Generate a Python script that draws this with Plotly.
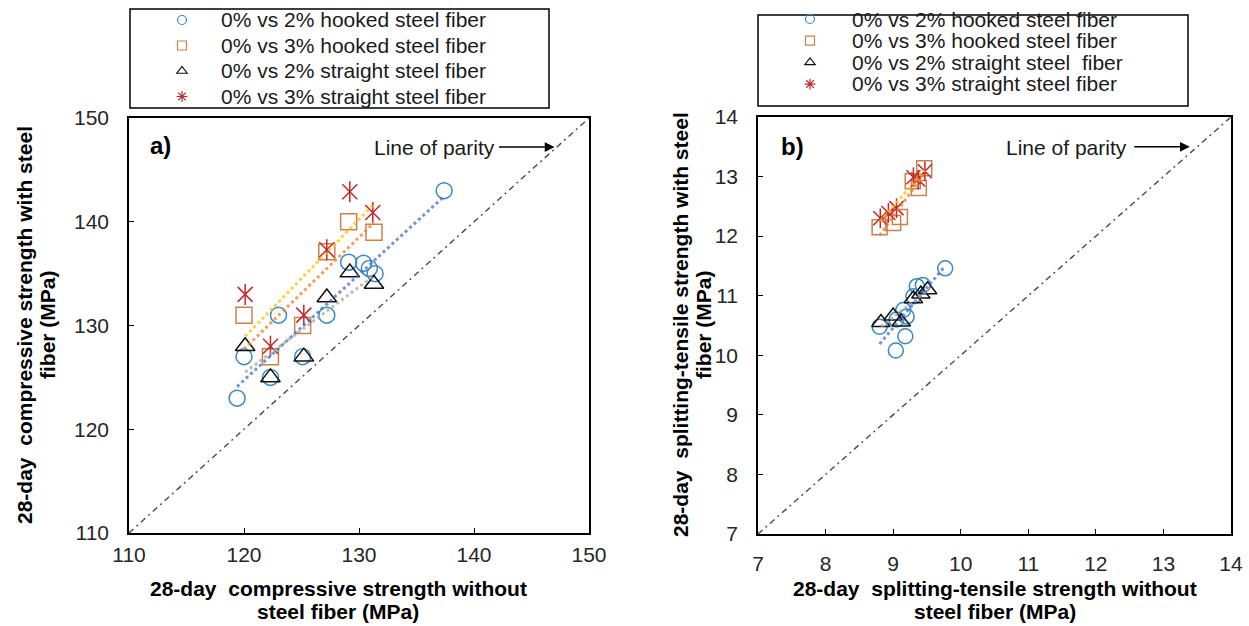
import numpy as np
import plotly.graph_objects as go

W, H = 1249, 626

# ---------------- data ----------------
series_names = ["0% vs 2% hooked steel fiber", "0% vs 3% hooked steel fiber",
                "0% vs 2% straight steel fiber", "0% vs 3% straight steel fiber"]
series_names_b = ["0% vs 2% hooked steel fiber", "0% vs 3% hooked steel fiber",
                  "0% vs 2% straight steel\u00a0 fiber", "0% vs 3% straight steel fiber"]

# Panel a: 28-day compressive strength (MPa)
a_x_hooked2 = [137.4, 129.1, 130.4, 130.9, 131.4, 123.0, 127.2, 120.0, 125.1, 122.3, 119.4]
a_y_hooked2 = [143.0, 136.1, 136.0, 135.5, 135.0, 131.0, 131.0, 127.0, 127.0, 125.0, 123.0]
a_x_hooked3 = [120.0, 122.3, 125.1, 127.2, 129.1, 131.3]
a_y_hooked3 = [131.0, 127.0, 130.0, 137.1, 140.0, 139.0]
a_x_straight2 = [120.1, 122.3, 125.2, 127.2, 129.2, 131.3]
a_y_straight2 = [128.0, 125.0, 127.0, 132.7, 135.1, 134.0]
a_x_straight3 = [120.1, 122.3, 125.2, 127.2, 129.2, 131.2]
a_y_straight3 = [133.0, 128.0, 131.0, 137.3, 142.9, 140.9]

# Panel b: 28-day splitting-tensile strength (MPa)
b_x_hooked2 = [9.77, 9.35, 9.44, 9.30, 9.20, 9.15, 9.05, 9.18, 9.04, 8.80]
b_y_hooked2 = [11.46, 11.16, 11.18, 10.99, 10.65, 10.76, 10.60, 10.32, 10.08, 10.48]
b_x_hooked3 = [8.80, 9.00, 9.10, 9.29, 9.38, 9.46]
b_y_hooked3 = [12.15, 12.22, 12.32, 12.92, 12.81, 13.14]
b_x_straight2 = [8.82, 9.00, 9.12, 9.30, 9.41, 9.51]
b_y_straight2 = [10.55, 10.66, 10.56, 10.95, 11.03, 11.10]
b_x_straight3 = [8.81, 8.93, 9.05, 9.30, 9.37, 9.47]
b_y_straight3 = [12.30, 12.39, 12.47, 12.99, 12.95, 13.09]

a_range = [110, 150]
b_range = [7, 14]
a_ticks = [110, 120, 130, 140, 150]
b_ticks = [7, 8, 9, 10, 11, 12, 13, 14]

# ---------------- styles ----------------
mark_colors = ["#3A88C4", "#C8824A", "#111111", "#C0282D"]
trend_colors = ["rgba(68,114,196,0.75)", "rgba(237,125,49,0.75)",
                "rgba(165,165,165,0.75)", "rgba(255,192,0,0.75)"]
symbols = ["circle-open", "square-open", "triangle-up-open", None]
FONT = "Liberation Sans, Arial, sans-serif"


def px_x(p):
    return p / W


def px_y(p):
    return 1 - p / H


fig = go.Figure()

panels = [
    dict(xa="x", ya="y", legend="legend",
         data=[(a_x_hooked2, a_y_hooked2), (a_x_hooked3, a_y_hooked3),
               (a_x_straight2, a_y_straight2), (a_x_straight3, a_y_straight3)],
         sizes=[16, 16, 17, 15], rng=a_range, names=series_names),
    dict(xa="x2", ya="y2", legend="legend2",
         data=[(b_x_hooked2, b_y_hooked2), (b_x_hooked3, b_y_hooked3),
               (b_x_straight2, b_y_straight2), (b_x_straight3, b_y_straight3)],
         sizes=[15, 15, 16, 14], rng=b_range, names=series_names_b),
]

for p in panels:
    # line of parity
    fig.add_trace(go.Scatter(x=p["rng"], y=p["rng"], mode="lines", xaxis=p["xa"], yaxis=p["ya"],
                             line=dict(color="#4a4a4a", width=1.4, dash="6px,4px,2px,4px"),
                             showlegend=False, hoverinfo="skip"))
    # markers
    for i, (xs, ys) in enumerate(p["data"]):
        if symbols[i] is not None:
            fig.add_trace(go.Scatter(x=xs, y=ys, mode="markers", xaxis=p["xa"], yaxis=p["ya"],
                                     marker=dict(symbol=symbols[i], size=p["sizes"][i], color=mark_colors[i],
                                                 line=dict(width=1.5, color=mark_colors[i])),
                                     showlegend=False))
        else:
            for sym in ["x-thin-open", "line-ns-open"]:
                fig.add_trace(go.Scatter(x=xs, y=ys, mode="markers", xaxis=p["xa"], yaxis=p["ya"],
                                         marker=dict(symbol=sym, size=p["sizes"][i], color=mark_colors[i],
                                                     line=dict(width=1.5, color=mark_colors[i])),
                                         showlegend=False))
    # linear trendlines (fitted from the data above)
    for i, (xs, ys) in enumerate(p["data"]):
        xa = np.array(xs)
        k, b = np.polyfit(xa, np.array(ys), 1)
        xt = np.array([xa.min(), xa.max()])
        fig.add_trace(go.Scatter(x=xt, y=k * xt + b, mode="lines", xaxis=p["xa"], yaxis=p["ya"],
                                 line=dict(color=trend_colors[i], width=3, dash="dot"),
                                 showlegend=False, hoverinfo="skip"))
    # legend samples (no data)
    for i in range(4):
        fig.add_trace(go.Scatter(x=[None], y=[None], mode="markers", xaxis=p["xa"], yaxis=p["ya"],
                                 name=" ", legend=p["legend"], legendgroup=p["legend"] + str(i),
                                 marker=dict(symbol=symbols[i] or "asterisk-open", size=9,
                                             color=mark_colors[i],
                                             line=dict(width=1.2, color=mark_colors[i])),
                                 showlegend=True))

axis_common = dict(ticks="inside", ticklen=5, tickwidth=1.2, tickcolor="black",
                   showline=True, linecolor="black", linewidth=1.5, mirror=True,
                   showgrid=False, zeroline=False,
                   tickfont=dict(size=21, color="#262626", family=FONT))

fig.update_layout(
    width=W, height=H, margin=dict(l=0, r=0, t=0, b=0, autoexpand=False),
    paper_bgcolor="white", plot_bgcolor="white",
    font=dict(family=FONT, color="black"),
    xaxis=dict(domain=[px_x(129), px_x(589)], range=a_range, tickvals=a_ticks, anchor="y",
               ticklabelstandoff=2, **axis_common),
    yaxis=dict(domain=[px_y(533), px_y(118)], range=a_range, tickvals=a_ticks, anchor="x",
               ticklabelstandoff=14, **axis_common),
    xaxis2=dict(domain=[px_x(758), px_x(1231)], range=b_range, tickvals=b_ticks, anchor="y2",
                ticklabelstandoff=10, **axis_common),
    yaxis2=dict(domain=[px_y(534), px_y(117)], range=b_range, tickvals=b_ticks, anchor="x2",
                ticklabelstandoff=14, **axis_common),
    legend=dict(x=px_x(162), y=px_y(5.5), xanchor="left", yanchor="top", borderwidth=0,
                bgcolor="rgba(0,0,0,0)", font=dict(size=10), traceorder="grouped",
                tracegroupgap=6.5, itemclick=False, itemdoubleclick=False),
    legend2=dict(x=px_x(790), y=px_y(4.5), xanchor="left", yanchor="top", borderwidth=0,
                 bgcolor="rgba(0,0,0,0)", font=dict(size=10), traceorder="grouped",
                 tracegroupgap=2.7, itemclick=False, itemdoubleclick=False),
)

shapes = [
    dict(type="rect", xref="paper", yref="paper", x0=px_x(130), x1=px_x(549), y0=px_y(108), y1=px_y(9),
         line=dict(color="black", width=1.5)),
    dict(type="rect", xref="paper", yref="paper", x0=px_x(758), x1=px_x(1188), y0=px_y(106), y1=px_y(15),
         line=dict(color="black", width=1.5)),
]
fig.update_layout(shapes=shapes)

ann = []


def text_ann(txt, x, y, size, bold=False, xanchor="center", angle=0, color="black"):
    ann.append(dict(text=f"<b>{txt}</b>" if bold else txt, xref="paper", yref="paper",
                    x=px_x(x), y=px_y(y), xanchor=xanchor, yanchor="middle", showarrow=False,
                    textangle=angle, font=dict(size=size, color=color, family=FONT)))


# legend labels
rows_a = [20, 45.5, 71, 96.5]
rows_b = [19, 40.7, 62.4, 84]
for i in range(4):
    text_ann(series_names[i], 219, rows_a[i], 21, xanchor="left", color="#1a1a1a")
    text_ann(series_names_b[i], 850, rows_b[i], 21, xanchor="left", color="#1a1a1a")

# panel labels
text_ann("a)", 160, 145, 24, bold=True)
text_ann("b)", 792, 146, 24, bold=True)

# line of parity labels + arrows
text_ann("Line of parity", 497, 147, 21, xanchor="right", color="#1a1a1a")
text_ann("Line of parity", 1129, 147, 21, xanchor="right", color="#1a1a1a")
ann.append(dict(text="", xref="x", yref="y", x=147.0, y=147.2, ax=-57, ay=0, showarrow=True,
                arrowhead=2, arrowsize=1.3, arrowwidth=1.5, arrowcolor="black", standoff=0))
ann.append(dict(text="", xref="x2", yref="y2", x=13.39, y=13.5, ax=-57, ay=0, showarrow=True,
                arrowhead=2, arrowsize=1.3, arrowwidth=1.5, arrowcolor="black", standoff=0))

# axis titles
text_ann("28-day\u00a0 compressive strength without", 338, 588, 21, bold=True)
text_ann("steel fiber (MPa)", 338, 611, 21, bold=True)
text_ann("28-day\u00a0 splitting-tensile strength without", 995, 588, 21, bold=True)
text_ann("steel fiber (MPa)", 995, 611, 21, bold=True)
text_ann("28-day\u00a0 compressive strength with steel", 24, 325, 21, bold=True, angle=-90)
text_ann("fiber (MPa)", 47, 325, 21, bold=True, angle=-90)
text_ann("28-day\u00a0 splitting-tensile strength with steel", 680, 325, 21, bold=True, angle=-90)
text_ann("fiber (MPa)", 703, 325, 21, bold=True, angle=-90)

fig.update_layout(annotations=ann)

fig.write_html("out.html")
